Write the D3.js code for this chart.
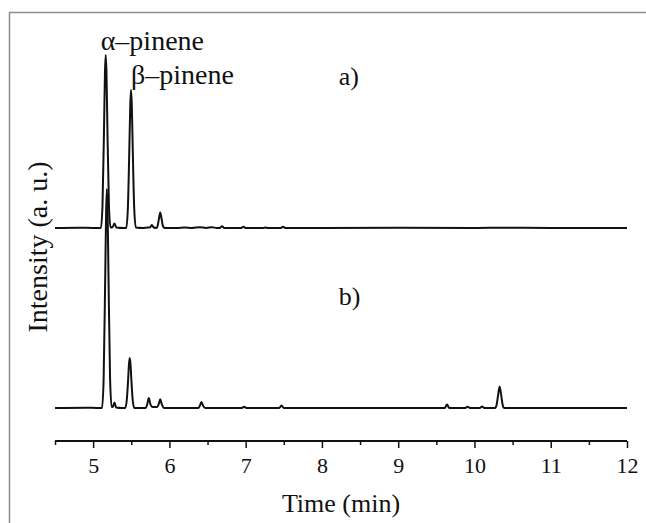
<!DOCTYPE html>
<html>
<head>
<meta charset="utf-8">
<script src="https://cdn.jsdelivr.net/npm/d3@7/dist/d3.min.js"></script>
<style>
  html, body { margin: 0; padding: 0; background: #fff; }
  svg { display: block; }
</style>
</head>
<body>
<svg id="chart" width="646" height="523"></svg>
<script>
// Chromatogram traces: [retention time (min), detector response (a.u.)]
const traceA = [
  [4.50, 0], [4.80, 0.3], [5.00, 0],
  [5.102, 0], [5.123, 23], [5.144, 105], [5.155, 155], [5.165, 173], [5.175, 155], [5.186, 105], [5.207, 23], [5.228, 0.5],
  [5.255, 1], [5.28, 4.5], [5.305, 0.5],
  [5.40, 0],
  [5.434, 0], [5.455, 19], [5.476, 84], [5.487, 123], [5.497, 138], [5.507, 123], [5.518, 84], [5.539, 19], [5.56, 0.5],
  [5.65, 0], [5.72, 0.5],
  [5.745, 0.5], [5.77, 3], [5.795, 0.5],
  [5.83, 0], [5.845, 2], [5.862, 9], [5.88, 15.5], [5.898, 9], [5.915, 2], [5.94, 0],
  [6.10, 0], [6.20, 0.6], [6.30, 0], [6.40, 0.8], [6.48, 0], [6.56, 0.8], [6.62, 0],
  [6.66, 0], [6.69, 1.8], [6.72, 0],
  [6.94, 0], [6.97, 1.2], [7.00, 0],
  [7.23, 0], [7.26, 0.6], [7.29, 0],
  [7.46, 0], [7.49, 1.2], [7.52, 0],
  [8.00, 0], [9.00, 0.2], [10.00, 0], [10.40, 0.3], [11.00, 0], [12.00, 0]
];

const traceB = [
  [4.50, 0], [4.90, 0.3], [5.05, 0],
  [5.117, 0], [5.138, 30], [5.159, 134], [5.17, 195], [5.18, 219], [5.19, 195], [5.201, 134], [5.222, 30], [5.243, 1],
  [5.258, 1], [5.28, 5.5], [5.302, 0.5],
  [5.38, 0],
  [5.42, 0], [5.44, 7], [5.46, 30], [5.47, 44], [5.48, 50], [5.49, 44], [5.50, 30], [5.52, 7], [5.54, 0],
  [5.65, 0],
  [5.69, 0], [5.71, 4], [5.73, 10], [5.75, 4], [5.78, 1],
  [5.84, 1], [5.86, 4], [5.88, 8.7], [5.90, 4], [5.93, 0],
  [6.20, 0],
  [6.38, 0], [6.40, 2.5], [6.42, 6], [6.44, 2.5], [6.47, 0],
  [6.95, 0], [6.98, 1.2], [7.01, 0],
  [7.44, 0], [7.47, 2.5], [7.50, 0],
  [8.50, 0], [9.30, 0],
  [9.61, 0], [9.64, 3.5], [9.67, 0],
  [9.88, 0], [9.91, 1.3], [9.94, 0],
  [10.07, 0], [10.10, 1.5], [10.13, 0],
  [10.27, 0], [10.29, 3], [10.31, 13], [10.33, 21.5], [10.35, 13], [10.37, 3], [10.39, 0],
  [11.00, 0], [12.00, 0]
];

// vertical stacking of trace a above trace b
const traceAOffset = 180;

const majorTicks = [5, 6, 7, 8, 9, 10, 11, 12];
const minorTicks = [4.5, 5.5, 6.5, 7.5, 8.5, 9.5, 10.5, 11.5];

const peakLabels = ["α–pinene", "β–pinene"];
const peakLabelTimes = [5.165, 5.497];
const traceLabels = ["a)", "b)"];

const SERIF = "'Liberation Serif', 'Times New Roman', Times, serif";

const svg = d3.select("#chart");

// outer frame
svg.append("path")
  .attr("d", "M9.5,523 V12.5 H646")
  .attr("fill", "none")
  .attr("stroke", "#8c8c8c")
  .attr("stroke-width", 1.5);

const x = d3.scaleLinear().domain([4.5, 12]).range([55, 627]);
const y = d3.scaleLinear().domain([0, 360]).range([408, 48]);

const line = d3.line()
  .x(d => x(d[0]))
  .y(d => y(d[1]))
  .curve(d3.curveMonotoneX);

svg.append("path")
  .datum(traceA.map(d => [d[0], d[1] + traceAOffset]))
  .attr("d", line)
  .attr("fill", "none")
  .attr("stroke", "#111")
  .attr("stroke-width", 2)
  .attr("stroke-linejoin", "round");

svg.append("path")
  .datum(traceB)
  .attr("d", line)
  .attr("fill", "none")
  .attr("stroke", "#111")
  .attr("stroke-width", 2)
  .attr("stroke-linejoin", "round");

// time axis
const axisY = 441;
const gMinor = svg.append("g").attr("transform", `translate(0,${axisY})`)
  .call(d3.axisBottom(x).tickValues(minorTicks).tickSize(4).tickFormat(""));
gMinor.select(".domain").remove();
gMinor.selectAll(".tick line").attr("stroke", "#111").attr("stroke-width", 1.5);

const gAxis = svg.append("g").attr("transform", `translate(0,${axisY})`)
  .call(d3.axisBottom(x).tickValues(majorTicks).tickSize(7).tickSizeOuter(0).tickPadding(9).tickFormat(d3.format("d")));
gAxis.attr("font-family", null).attr("font-size", null);
gAxis.select(".domain").attr("stroke", "#111").attr("stroke-width", 2)
  .attr("d", `M${x(4.5)},0H${x(12)}`);
gAxis.selectAll(".tick line").attr("stroke", "#111").attr("stroke-width", 1.5);
gAxis.selectAll(".tick text")
  .style("font-family", SERIF)
  .style("font-size", "22px")
  .attr("fill", "#111");

function label(xPos, yPos, txt, size, anchor) {
  return svg.append("text")
    .attr("x", xPos).attr("y", yPos)
    .attr("text-anchor", anchor || "start")
    .style("font-family", SERIF)
    .style("font-size", size + "px")
    .attr("fill", "#111")
    .text(txt);
}

label(341, 512, "Time (min)", 26, "middle");

svg.append("text")
  .attr("transform", "translate(47,247) rotate(-90)")
  .attr("text-anchor", "middle")
  .style("font-family", SERIF)
  .style("font-size", "28px")
  .attr("fill", "#111")
  .text("Intensity (a. u.)");

label(x(peakLabelTimes[0]) - 5, 50, peakLabels[0], 28);
label(x(peakLabelTimes[1]) + 0, 84, peakLabels[1], 28);

label(x(8.22), 85, traceLabels[0], 26);
label(x(8.22), 305, traceLabels[1], 26);
</script>
</body>
</html>
